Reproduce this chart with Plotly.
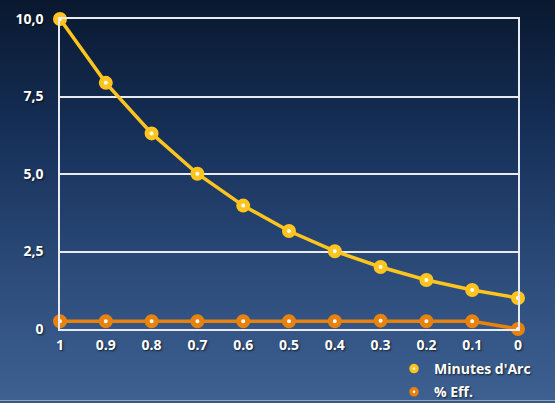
import base64
import plotly.graph_objects as go

# Data
steps = ["1", "0.9", "0.8", "0.7", "0.6", "0.5", "0.4", "0.3", "0.2", "0.1", "0"]
minutes_arc = [10.0, 7.94, 6.31, 5.01, 3.98, 3.16, 2.51, 2.0, 1.58, 1.26, 1.0]
pct_eff = [0.25, 0.25, 0.25, 0.25, 0.25, 0.25, 0.25, 0.27, 0.25, 0.25, 0.0]
y_tickvals = [0, 2.5, 5, 7.5, 10]
y_ticktext = ["0", "2,5", "5,0", "7,5", "10,0"]

W, H = 555, 403
L, R, T, B = 60, 37, 19, 74
PW, PH = W - L - R, H - T - B

FONT = "Open Sans"
SHADOW = "1px 1px 2px rgba(0,0,0,0.7)"
YELLOW = "#FFC51E"
ORANGE = "#E8820E"

# vertical background gradient as an inline SVG
svg = f"""<svg xmlns='http://www.w3.org/2000/svg' width='{W}' height='{H}' viewBox='0 0 {W} {H}' preserveAspectRatio='none'>
<defs><linearGradient id='g' x1='0' y1='0' x2='0' y2='1'>
<stop offset='0' stop-color='#09182f'/>
<stop offset='0.35' stop-color='#17315a'/>
<stop offset='0.7' stop-color='#2d4d7c'/>
<stop offset='1' stop-color='#3e6192'/>
</linearGradient></defs>
<rect width='{W}' height='{H}' fill='url(#g)'/>
<rect x='0' y='{H-3}' width='{W}' height='1' fill='#8ea3c4'/>
<rect x='0' y='{H-2}' width='{W}' height='2' fill='#3a5886'/>
</svg>"""
bg_src = "data:image/svg+xml;base64," + base64.b64encode(svg.encode()).decode()

fig = go.Figure()

def add_series(name, values, color, group):
    # the curve itself
    fig.add_trace(go.Scatter(
        x=steps, y=values, name=name, mode="lines+markers",
        legendgroup=group, showlegend=False,
        line=dict(color=color, width=3.5),
        marker=dict(symbol="circle", size=9, color="white",
                    line=dict(color=color, width=5)),
        cliponaxis=False,
    ))
    # marker-only legend entry
    fig.add_trace(go.Scatter(
        x=[None], y=[None], name=name, mode="markers",
        legendgroup=group, showlegend=True,
        marker=dict(symbol="circle", size=6, color="white",
                    line=dict(color=color, width=3.5)),
    ))

add_series("Minutes d'Arc", minutes_arc, YELLOW, "a")
add_series("% Eff.", pct_eff, ORANGE, "b")

tick_font = dict(family=FONT, size=14, color="white", weight="bold", shadow=SHADOW)

fig.update_layout(
    width=W, height=H,
    margin=dict(l=L, r=R, t=T, b=B, autoexpand=False),
    paper_bgcolor="#1e3a63",
    plot_bgcolor="rgba(0,0,0,0)",
    showlegend=True,
    legend=dict(
        x=(394 - L) / PW, y=(329 - 353) / PH,
        xanchor="left", yanchor="top",
        bgcolor="rgba(0,0,0,0)",
        font=dict(family=FONT, size=14, color="white", weight="bold", shadow=SHADOW),
        tracegroupgap=2,
        itemwidth=30,
    ),
    images=[dict(
        source=bg_src, xref="paper", yref="paper",
        x=-L / PW, y=1 + T / PH, sizex=W / PW, sizey=H / PH,
        xanchor="left", yanchor="top", sizing="stretch", layer="below",
    )],
    annotations=[dict(
        text="Efficacité vs Angle du Temps",
        xref="paper", yref="paper", x=(277 - L) / PW, y=1 + (T + 16) / PH,
        xanchor="center", yanchor="middle", showarrow=False,
        font=dict(family=FONT, size=26, color="white", weight="bold"),
    )],
    xaxis=dict(
        type="category", range=[0, 10], showgrid=False, zeroline=False,
        showline=True, mirror=True, linecolor="#e8ecf2", linewidth=1.5,
        ticks="outside", ticklen=2, tickcolor="rgba(0,0,0,0)",
        tickfont=tick_font,
    ),
    yaxis=dict(
        range=[0, 10], tickvals=y_tickvals, ticktext=y_ticktext,
        showgrid=True, gridcolor="#e8ecf2", gridwidth=1.5, zeroline=False,
        showline=True, mirror=True, linecolor="#e8ecf2", linewidth=1.5,
        ticks="outside", ticklen=12, tickcolor="rgba(0,0,0,0)",
        tickfont=tick_font,
    ),
)

fig.write_html("out.html")
